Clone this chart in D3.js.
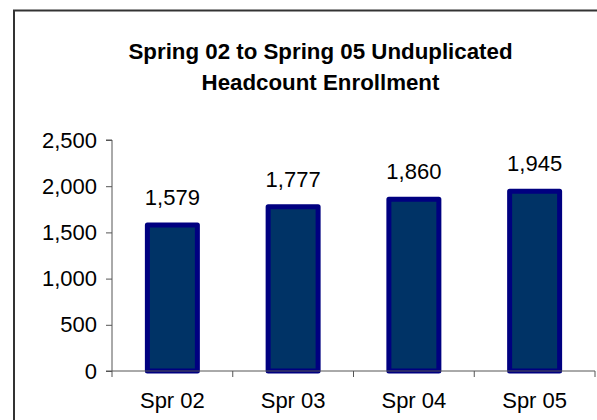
<!DOCTYPE html>
<html>
<head>
<meta charset="utf-8">
<script src="https://cdn.jsdelivr.net/npm/d3@7"></script>
<style>
  html, body { margin: 0; padding: 0; background: #fff; }
  svg { display: block; }
  text { font-family: "Liberation Sans", Arial, sans-serif; fill: #000; }
</style>
</head>
<body>
<svg id="chart" width="597" height="420"></svg>
<script>
const categories = ["Spr 02", "Spr 03", "Spr 04", "Spr 05"];
const values = [1579, 1777, 1860, 1945];
const yTicks = [0, 500, 1000, 1500, 2000, 2500];
const titleLines = ["Spring 02 to Spring 05 Unduplicated", "Headcount Enrollment"];

(function () {
const svg = d3.select("#chart");
const pLeft = 112, pRight = 595, pTop = 140, pBottom = 371;

// outer frame (extends past right/bottom edges)
svg.append("rect")
  .attr("x", 14).attr("y", 10.5)
  .attr("width", 620).attr("height", 450)
  .attr("fill", "none").attr("stroke", "#333").attr("stroke-width", 2);

// title
svg.append("g").selectAll("text").data(titleLines).join("text")
  .attr("x", 320.5)
  .attr("y", (d, i) => 59 + i * 31)
  .attr("text-anchor", "middle")
  .attr("font-size", "22.3px")
  .attr("font-weight", "bold")
  .text(d => d);

const x = d3.scaleBand().domain(categories).range([pLeft, pRight])
  .paddingInner(0.586).paddingOuter(0.293);
const y = d3.scaleLinear().domain([0, 2500]).range([pBottom, pTop]);

// y axis
const yAxis = d3.axisLeft(y).tickValues(yTicks).tickSize(6).tickPadding(9)
  .tickFormat(d3.format(","));
const gy = svg.append("g").attr("transform", `translate(${pLeft},0)`).call(yAxis);
gy.select(".domain").attr("stroke", "#555").attr("d", `M-6,${pTop}H0V${pBottom}H-6`);
gy.selectAll(".tick line").attr("stroke", "#555");
gy.selectAll(".tick text")
  .attr("font-size", "22px")
  .attr("font-family", "'Liberation Sans', Arial, sans-serif")
  .attr("fill", "#000");

// x axis: category ticks at boundaries
const step = x.step();
const boundaries = d3.range(categories.length + 1).map(i => pLeft + i * step);
const gx = svg.append("g");
gx.selectAll(".bt").data(boundaries).join("line")
  .attr("x1", d => d).attr("x2", d => d)
  .attr("y1", pBottom).attr("y2", pBottom + 6).attr("stroke", "#555");
gx.selectAll("text").data(categories).join("text")
  .attr("x", d => x(d) + x.bandwidth() / 2)
  .attr("y", 408)
  .attr("text-anchor", "middle")
  .attr("font-size", "22px")
  .text(d => d);

// bars
const data = categories.map((c, i) => ({ c, v: values[i] }));
svg.append("g").selectAll("rect").data(data).join("rect")
  .attr("x", d => x(d.c))
  .attr("y", d => y(d.v))
  .attr("width", x.bandwidth())
  .attr("height", d => y(0) - y(d.v))
  .attr("fill", "#003366")
  .attr("stroke", "#000080")
  .attr("stroke-width", 5)
  .attr("stroke-linejoin", "round");

// value labels
svg.append("g").selectAll("text").data(data).join("text")
  .attr("x", d => x(d.c) + x.bandwidth() / 2)
  .attr("y", d => y(d.v) - 20)
  .attr("text-anchor", "middle")
  .attr("font-size", "22px")
  .text(d => d3.format(",")(d.v));

// x axis line over bar bottoms
svg.append("line").attr("x1", pLeft).attr("x2", pRight)
  .attr("y1", pBottom).attr("y2", pBottom).attr("stroke", "#555");
})();
</script>
</body>
</html>
